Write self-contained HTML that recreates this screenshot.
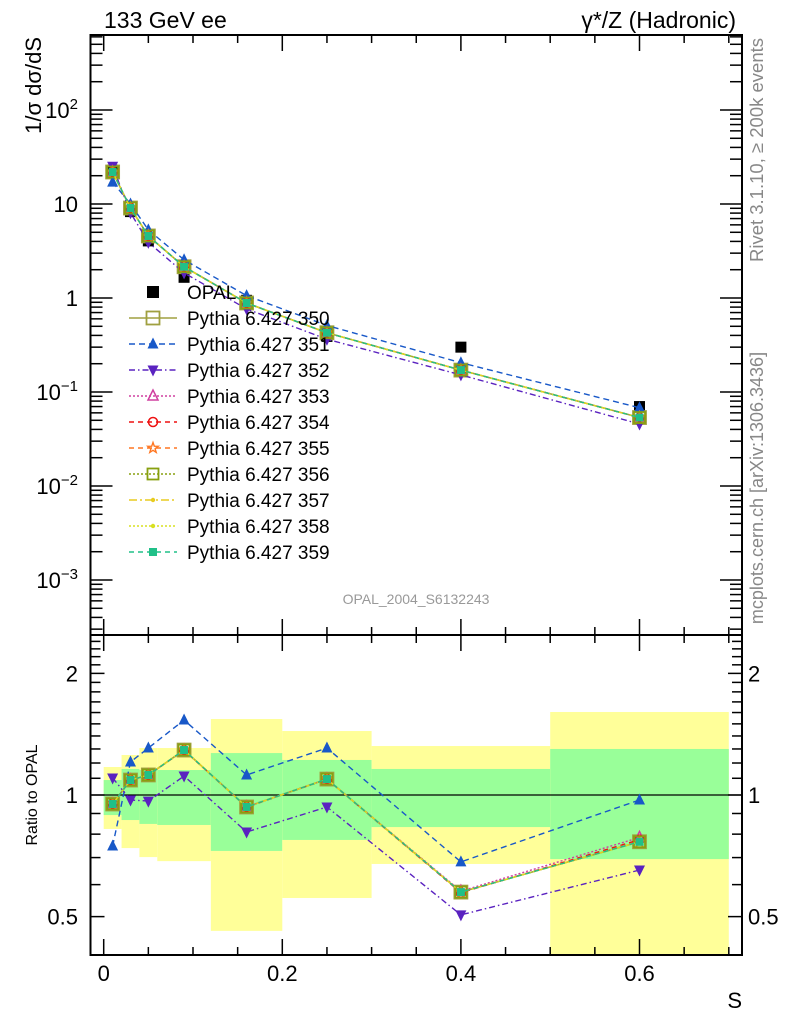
<!DOCTYPE html>
<html><head><meta charset="utf-8"><style>
html,body{margin:0;padding:0;background:#fff;}
svg{display:block;font-family:"Liberation Sans",sans-serif;}
</style></head><body>
<svg id="chart" width="786" height="1024" viewBox="0 0 786 1024" xmlns="http://www.w3.org/2000/svg">
<g id="bands"></g>
<g id="opal"></g>
<g id="series"></g>
<g id="axes"></g>
<g id="legend"></g>
<text x="104" y="28" font-size="23">133 GeV ee</text>
<text x="736" y="28" font-size="23" text-anchor="end">γ*/Z (Hadronic)</text>
<text x="416" y="604" font-size="14" fill="#999" text-anchor="middle">OPAL_2004_S6132243</text>
<text transform="translate(41,37) rotate(-90)" font-size="22" text-anchor="end">1/σ dσ/dS</text>
<text transform="translate(37,795) rotate(-90)" font-size="16" text-anchor="middle">Ratio to OPAL</text>
<text x="742" y="1008" font-size="22" text-anchor="end">S</text>
<text transform="translate(763,150) rotate(-90)" font-size="18.5" fill="#888" text-anchor="middle">Rivet 3.1.10, ≥ 200k events</text>
<text transform="translate(763,488) rotate(-90)" font-size="18" fill="#888" text-anchor="middle">mcplots.cern.ch [arXiv:1306.3436]</text>
</svg>
<script>
const xCenters = [0.01,0.03,0.05,0.09,0.16,0.25,0.4,0.6];
const binEdges = [0,0.02,0.04,0.06,0.12,0.2,0.3,0.5,0.7];
const opalData = [22.9,8.3,4.05,1.66,0.945,0.39,0.30,0.070];
const main350 = [21.9,9.06,4.57,2.15,0.885,0.427,0.171,0.0535];
const main351 = [17.1,10.0,5.3,2.55,1.06,0.51,0.205,0.068];
const main352 = [25.2,8.07,3.91,1.85,0.765,0.364,0.152,0.0457];
const ratio350 = [0.95,1.089,1.121,1.292,0.934,1.095,0.575,0.766];
const ratio351 = [0.748,1.207,1.307,1.533,1.121,1.307,0.683,0.972];
const ratio352 = [1.102,0.972,0.966,1.114,0.810,0.934,0.505,0.652];
const ratio353 = [0.95,1.09,1.12,1.29,0.935,1.095,0.578,0.785];
const ratio354 = [0.952,1.088,1.12,1.29,0.933,1.094,0.573,0.775];
const yellowHi = [1.173,1.256,1.307,1.307,1.542,1.440,1.322,1.605];
const yellowLo = [0.824,0.739,0.702,0.686,0.461,0.556,0.675,0.30];
const greenHi = [1.089,1.160,1.153,1.153,1.270,1.221,1.160,1.300];
const greenLo = [0.892,0.867,0.848,0.843,0.727,0.774,0.833,0.694];
const mainYTicks = ["10^2","10","1","10^-1","10^-2","10^-3"];
const mainYTickVals = [100,10,1,0.1,0.01,0.001];
const ratioYTickLabels = ["2","1","0.5"];
const ratioYTickVals = [2,1,0.5];
const xTickLabels = ["0","0.2","0.4","0.6"];
const xTickVals = [0,0.2,0.4,0.6];

const NS="http://www.w3.org/2000/svg";
const L=90.5,R=742,MT=35,MB=635,RT=635,RB=955;
const sx=v=>103.7+v*893;
const sy=v=>298-94*Math.log10(v);
const ry=v=>795-404*Math.log10(v);
function mk(tag,attrs,parent){const e=document.createElementNS(NS,tag);for(const k in attrs)e.setAttribute(k,attrs[k]);parent.appendChild(e);return e;}
const bands=document.getElementById('bands'),ser=document.getElementById('series'),axes=document.getElementById('axes'),leg=document.getElementById('legend'),opalL=document.getElementById('opal');

for(let i=0;i<xCenters.length;i++){
  const x0=sx(binEdges[i]),x1=sx(binEdges[i+1]);
  const yt=Math.max(ry(yellowHi[i]),RT),yb=Math.min(ry(yellowLo[i]),RB);
  const y=mk('rect',{x:x0,y:yt,width:x1-x0,height:yb-yt,fill:'#ffff99'},bands);
  
  
  const gt=ry(greenHi[i]),gb=ry(greenLo[i]);
  const g=mk('rect',{x:x0,y:gt,width:x1-x0,height:gb-gt,fill:'#99ff99'},bands);
  
  
}
const one=mk('line',{x1:L,x2:R,y1:ry(1),y2:ry(1),stroke:'#000','stroke-width':1.2},bands);



function marker(p,kind,x,y,col,s){
  s=s||5.5;
  let e;
  if(kind==='sq'||kind==='osq'){e=mk('rect',{x:x-s,y:y-s,width:2*s,height:2*s,fill:kind==='sq'?col:'none',stroke:col,'stroke-width':kind==='sq'?0:1.8},p);}
  else if(kind==='tu'||kind==='otu'){e=mk('polygon',{points:`${x},${y-s-1} ${x-s},${y+s-1} ${x+s},${y+s-1}`,fill:kind==='tu'?col:'none',stroke:col,'stroke-width':kind==='tu'?0:1.5},p);}
  else if(kind==='td'){e=mk('polygon',{points:`${x},${y+s+1} ${x-s},${y-s+1} ${x+s},${y-s+1}`,fill:col},p);}
  else if(kind==='oc'){e=mk('circle',{cx:x,cy:y,r:s-0.5,fill:'none',stroke:col,'stroke-width':1.5},p);}
  else if(kind==='star'){let pts=[];for(let k=0;k<10;k++){const a=-Math.PI/2+k*Math.PI/5,r=k%2?s*0.45:s+0.5;pts.push((x+r*Math.cos(a)).toFixed(1)+','+(y+r*Math.sin(a)).toFixed(1));}e=mk('polygon',{points:pts.join(' '),fill:'none',stroke:col,'stroke-width':1.4},p);}
  else if(kind==='dot'){e=mk('circle',{cx:x,cy:y,r:2.2,fill:col},p);}
  return e;
}
const seriesDefs=[
 {n:'350',col:'#a0a040',dash:'',mk:'osq',main:main350,ratio:ratio350,w:1.6,s:6.5},
 {n:'351',col:'#1858c8',dash:'6,4',mk:'tu',main:main351,ratio:ratio351,w:1.4,s:5.5},
 {n:'352',col:'#5a22c0',dash:'6,3,1.5,3',mk:'td',main:main352,ratio:ratio352,w:1.4,s:5.5},
 {n:'353',col:'#d040a0',dash:'2,2',mk:'otu',main:main350,ratio:ratio353,w:1.4,s:5},
 {n:'354',col:'#ee1111',dash:'5,4',mk:'oc',main:main350,ratio:ratio354,w:1.4,s:5},
 {n:'355',col:'#ff7722',dash:'5,4',mk:'star',main:main350,ratio:ratio350,w:1.4,s:5},
 {n:'356',col:'#88a010',dash:'2,2',mk:'osq',main:main350,ratio:ratio350,w:1.4,s:5.5},
 {n:'357',col:'#e8cc20',dash:'8,3,2,3',mk:'dot',main:main350,ratio:ratio350,w:1.4,s:3},
 {n:'358',col:'#d8e020',dash:'2,2',mk:'dot',main:main350,ratio:ratio350,w:1.4,s:3},
 {n:'359',col:'#20c088',dash:'5,4',mk:'sq',main:main350,ratio:ratio350,w:1.4,s:4}
];
const clip=mk('clipPath',{id:'clipRatio'},ser);mk('rect',{x:L,y:RT,width:R-L,height:RB-RT},clip);
const og=mk('g',{},opalL);


xCenters.forEach((x,i)=>{
  const m=marker(og,'sq',sx(x),sy(opalData[i]),'#000',5.5);
  
  
});
for(const s of seriesDefs){
  const g=mk('g',{},ser);
  
  
  const pm=xCenters.map((x,i)=>sx(x)+','+sy(s.main[i])).join(' ');
  mk('polyline',{points:pm,fill:'none',stroke:s.col,'stroke-width':s.w,'stroke-dasharray':s.dash},g);
  const pr=xCenters.map((x,i)=>sx(x)+','+ry(s.ratio[i])).join(' ');
  mk('polyline',{points:pr,fill:'none',stroke:s.col,'stroke-width':s.w,'stroke-dasharray':s.dash,'clip-path':'url(#clipRatio)'},g);
  xCenters.forEach((x,i)=>{
    const m1=marker(g,s.mk,sx(x),sy(s.main[i]),s.col,s.s);
    
    
    const m2=marker(g,s.mk,sx(x),ry(s.ratio[i]),s.col,s.s);
    
    
  });
}
for(const [t,b,nm] of [[MT,MB,'main-frame'],[RT,RB,'ratio-frame']]){
  const f=mk('rect',{x:L,y:t,width:R-L,height:b-t,fill:'none',stroke:'#000','stroke-width':2},axes);
  
  
}
function ln(x1,y1,x2,y2,w){mk('line',{x1,y1,x2,y2,stroke:'#000','stroke-width':w||1.5},axes);}
for(let v=0;v<=0.7001;v+=0.05){
  const x=sx(v),maj=Math.abs(v/0.2-Math.round(v/0.2))<1e-6;
  const l=maj?16:8;
  ln(x,MT,x,MT+l);ln(x,MB,x,MB-l);ln(x,RT,x,RT+l);ln(x,RB,x,RB-l);
}
xTickVals.forEach((v,i)=>{
  const t=mk('text',{x:sx(v),y:981,'font-size':22,'text-anchor':'middle'},axes);t.textContent=xTickLabels[i];
  
  
});
for(let d=-4;d<=2;d++){for(let k=1;k<=9;k++){const v=k*Math.pow(10,d);const y=sy(v);if(y<MT||y>MB)continue;const l=k===1?22:12;ln(L,y,L+l,y);ln(R,y,R-l,y);}}
mainYTickVals.forEach((v,i)=>{
  const lab=mainYTicks[i];const t=mk('text',{x:78,y:sy(v)+8,'font-size':22,'text-anchor':'end'},axes);
  
  
  if(lab.includes('^')){const [b,e]=lab.split('^');t.textContent=b;const ts=mk('tspan',{'font-size':15,dy:-9},t);ts.textContent=e.replace('-','−');}
  else t.textContent=lab;
});
for(let v=0.4;v<=2.501;v+=0.1){const y=ry(v);if(y<RT||y>RB)continue;const maj=[0.5,1,2].some(m=>Math.abs(m-v)<1e-6);const l=maj?14:10;ln(L,y,L+l,y);ln(R,y,R-l,y);}
ratioYTickVals.forEach((v,i)=>{
  const t=mk('text',{x:78,y:ry(v)+8,'font-size':22,'text-anchor':'end'},axes);t.textContent=ratioYTickLabels[i];
  
  
  const t2=mk('text',{x:748,y:ry(v)+8,'font-size':22},axes);t2.textContent=ratioYTickLabels[i];
  
  
});
const rows=[{n:'OPAL',col:'#000',mk:'sq',dash:null,s:6}].concat(seriesDefs.map(s=>({n:'Pythia 6.427 '+s.n,col:s.col,mk:s.mk,dash:s.dash,w:s.w,s:s.s})));
rows.forEach((r,i)=>{
  const y=292+i*26;const g=mk('g',{},leg);
  
  
  if(r.dash!==null)mk('line',{x1:129,x2:177,y1:y,y2:y,stroke:r.col,'stroke-width':r.w,'stroke-dasharray':r.dash},g);
  marker(g,r.mk,153,y,r.col,r.s);
  const t=mk('text',{x:187,y:y+7,'font-size':19},g);t.textContent=r.n;
});
</script>
</body></html>
